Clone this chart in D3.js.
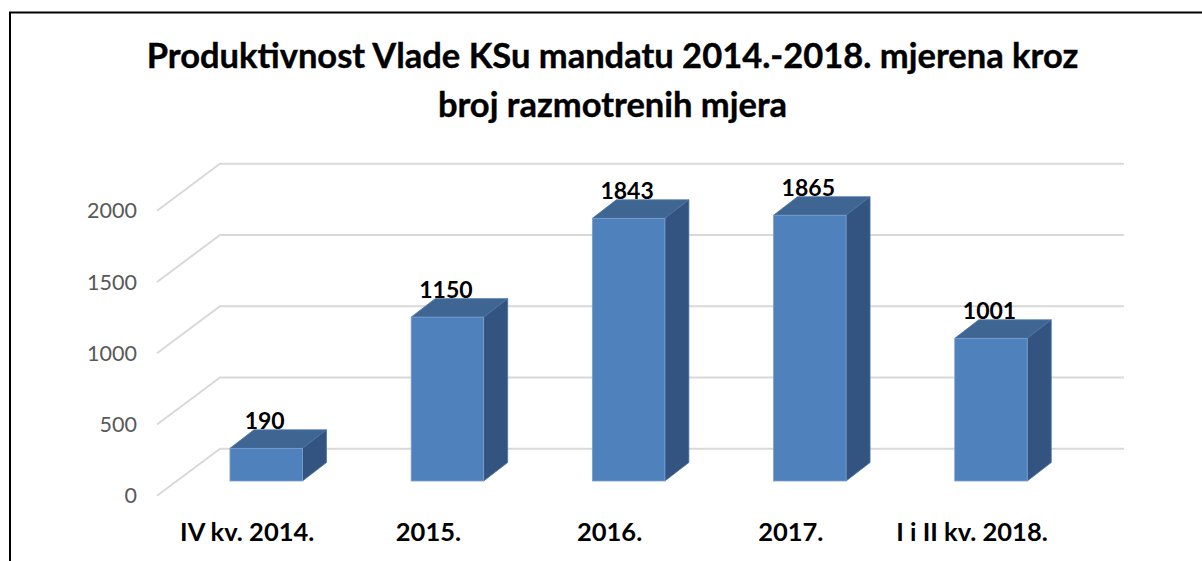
<!DOCTYPE html>
<html><head><meta charset="utf-8">
<script src="https://cdn.jsdelivr.net/npm/d3@7"></script>
<style>html,body{margin:0;padding:0;background:#fff}svg{display:block}</style>
</head><body><svg id="c" width="1202" height="561"></svg>
<script>
const titleLines = ["Produktivnost Vlade KSu mandatu 2014.-2018. mjerena kroz", "broj razmotrenih mjera"];
const categories = ["IV kv. 2014.", "2015.", "2016.", "2017.", "I i II kv. 2018."];
const barHeights = [229, 1150, 1843, 1865, 1001];
const barLabels = ["190", "1150", "1843", "1865", "1001"];
const yTicks = [0, 500, 1000, 1500, 2000];

const font = "Lato, Carlito, 'Open Sans', sans-serif";
const svg = d3.select("#c");
const W = 1202;

svg.append("path").attr("d", `M10,561V12.5H${W}`).attr("fill", "none").attr("stroke", "#000").attr("stroke-width", 2);

const title = svg.append("g").attr("font-family", font).attr("font-weight", 700).attr("font-size", 34.5).attr("text-anchor", "middle").attr("fill", "#000").attr("stroke", "#000").attr("stroke-width", 0.4);
title.selectAll("text").data(titleLines).join("text")
  .attr("x", 612.5).attr("y", (d, i) => 68 + i * 49).text(d => d);

const y = d3.scaleLinear().domain([0, 2000]).range([495.7, 210.7]);
const x = d3.scaleBand().domain(categories).range([175.6, 1081.6]).paddingInner(0.6).paddingOuter(0.3);

const wallDX = 63, wallDY = -47;
const grid = svg.append("g").attr("fill", "none").attr("stroke", "#D9D9D9").attr("stroke-width", 2);
grid.selectAll("path").data(yTicks).join("path")
  .attr("d", d => `M157,${y(d)}L${157 + wallDX},${y(d) + wallDY}H1124`);

const axis = d3.axisLeft(y).tickValues(yTicks).tickSize(0).tickPadding(0).tickFormat(d3.format("d"));
const axG = svg.append("g").attr("transform", "translate(137,0)").call(axis);
axG.select(".domain").remove();
axG.selectAll("text").attr("font-family", font).attr("font-size", 21.5).attr("fill", "#595959").attr("dy", "0.33em");

const baseShift = -14.7, dx = 24, dy = -18.5;
const bars = svg.append("g").selectAll("g").data(categories).join("g");
const barX = d => x(d);
const barTop = (d, i) => y(barHeights[i]) + baseShift;
const bot = y(0) + baseShift;
const bw = 72.5;
bars.append("path").attr("fill", "#3F6693").attr("stroke", "#4A74A6").attr("stroke-width", 0.8)
  .attr("d", (d, i) => `M${barX(d)},${barTop(d, i)}l${dx},${dy}h${bw}l${-dx},${-dy}Z`);
bars.append("path").attr("fill", "#335480").attr("stroke", "#4A74A6").attr("stroke-width", 0.8)
  .attr("d", (d, i) => `M${barX(d) + bw},${barTop(d, i)}l${dx},${dy}V${bot + dy}l${-dx},${-dy}Z`);
bars.append("rect").attr("fill", "#4F81BD").attr("stroke", "#7AA0CF").attr("stroke-width", 0.8)
  .attr("x", barX).attr("y", barTop).attr("width", bw).attr("height", (d, i) => bot - barTop(d, i));

svg.append("g").attr("font-family", font).attr("font-weight", 700).attr("font-size", 23).attr("text-anchor", "middle").attr("fill", "#000")
  .selectAll("text").data(categories).join("text")
  .attr("x", d => barX(d) + bw / 2 - 1.5)
  .attr("y", (d, i) => barTop(d, i) + dy - 1)
  .text((d, i) => barLabels[i]);

svg.append("g").attr("font-family", font).attr("font-weight", 700).attr("font-size", 25.5).attr("text-anchor", "middle").attr("fill", "#000")
  .selectAll("text").data(categories).join("text")
  .attr("x", d => barX(d) + bw / 2 - 19).attr("y", 541).text(d => d);
</script></body></html>
